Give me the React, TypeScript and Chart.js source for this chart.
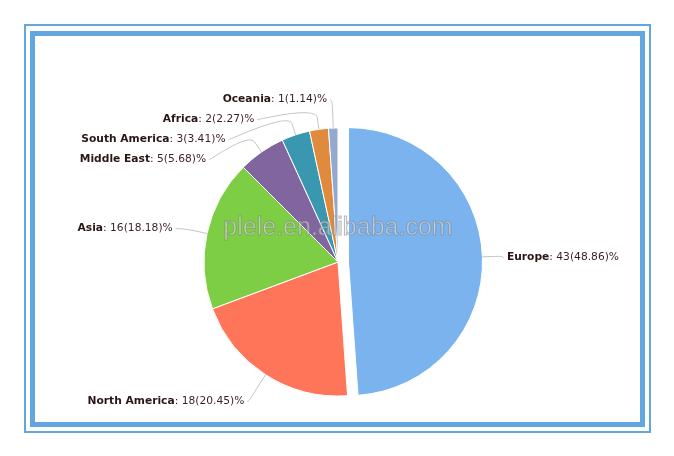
import React, { useEffect, useRef } from "react";
import { Chart, registerables } from "chart.js";

Chart.register(...registerables);

// ---- data ----
const regions = ["Europe", "North America", "Asia", "Middle East", "South America", "Africa", "Oceania"];
const counts = [43, 18, 16, 5, 3, 2, 1];
const sliceColors = ["#7AB3EE", "#FF755A", "#7ECE45", "#80659E", "#3A97B0", "#E08A3E", "#93A9CF"];
const slicedOffsets = [10.5, 0, 0, 0, 0, 0, 0];
const watermarkText = "plele.en.alibaba.com";

const FONT = '"DejaVu Sans", Verdana, sans-serif';
const FONT_SIZE = 10.7;
const FRAME = "#62A6E0";

// Slide "sliced" pie pieces outward along their mid-angle without enlarging them
const slicePlugin = {
  id: "sliceOut",
  afterDatasetUpdate(chart: any, args: any) {
    if (args.index !== 0) return;
    const meta = chart.getDatasetMeta(0);
    meta.data.forEach((arc: any, i: number) => {
      const off = slicedOffsets[i] || 0;
      if (!off) return;
      const mid = (arc.startAngle + arc.endAngle) / 2;
      arc.x += Math.cos(mid) * off;
      arc.y += Math.sin(mid) * off;
    });
  },
};

const labelPlugin = {
  id: "pieLabels",
  afterDatasetsDraw(chart: any) {
    const ctx = chart.ctx as CanvasRenderingContext2D;
    const meta = chart.getDatasetMeta(0);
    const ds = chart.data.datasets[0];
    const values = ds.data as number[];
    const labels = chart.data.labels as string[];
    const total = values.reduce((a, b) => a + b, 0);
    const area = chart.chartArea;
    const cx = (area.left + area.right) / 2;
    const cy = (area.top + area.bottom) / 2;
    const distance = 30;
    const padding = 5;
    const minGap = 20;
    const items = meta.data.map((arc: any, i: number) => {
      const mid = (arc.startAngle + arc.endAngle) / 2;
      const cos = Math.cos(mid);
      const sin = Math.sin(mid);
      return {
        i,
        r: arc.outerRadius,
        cos,
        sin,
        off: slicedOffsets[i] || 0,
        left: cos < 0,
        y: cy + sin * (arc.outerRadius + distance),
      };
    });
    for (const side of [true, false]) {
      const group = items.filter((it: any) => it.left === side).sort((a: any, b: any) => a.y - b.y);
      for (let k = 1; k < group.length; k++) {
        if (group[k].y < group[k - 1].y + minGap) group[k].y = group[k - 1].y + minGap;
      }
    }
    ctx.save();
    ctx.textBaseline = "middle";
    for (const it of items) {
      const R = it.r + distance;
      const s = Math.max(-1, Math.min(1, (it.y - cy) / R));
      const gx = cx + (it.left ? -1 : 1) * Math.cos(Math.asin(s)) * R;
      const dir = it.left ? -1 : 1;
      const ly = it.y + 1.5;
      const name = labels[it.i];
      const rest = ": " + values[it.i] + "(" + ((values[it.i] / total) * 100).toFixed(2) + ")%";
      ctx.font = `bold ${FONT_SIZE}px ${FONT}`;
      const wName = ctx.measureText(name).width;
      ctx.font = `${FONT_SIZE}px ${FONT}`;
      const wRest = ctx.measureText(rest).width;
      const w = wName + wRest;
      const textStart = it.left ? gx - padding - w : gx + padding;
      const textEdge = it.left ? gx - padding : gx + padding;
      // connector
      const ox = cx + it.cos * it.off;
      const oy = cy + it.sin * it.off;
      const Ex = ox + it.cos * it.r;
      const Ey = oy + it.sin * it.r;
      const Bx = ox + it.cos * (it.r + 12);
      const By = oy + it.sin * (it.r + 12);
      const Sx = textEdge - dir * 3;
      ctx.beginPath();
      ctx.moveTo(Sx, ly);
      ctx.bezierCurveTo(gx, ly, 2 * Bx - Ex, 2 * By - Ey, Bx, By);
      ctx.lineTo(Ex, Ey);
      ctx.strokeStyle = "#C4C4C4";
      ctx.lineWidth = 1;
      ctx.stroke();
      // text
      ctx.textAlign = "left";
      ctx.fillStyle = "#2B1616";
      ctx.font = `bold ${FONT_SIZE}px ${FONT}`;
      ctx.fillText(name, textStart, ly);
      ctx.fillStyle = "#3A1E26";
      ctx.font = `${FONT_SIZE}px ${FONT}`;
      ctx.fillText(rest, textStart + wName, ly);
    }
    ctx.restore();
  },
  afterDraw(chart: any) {
    const ctx = chart.ctx as CanvasRenderingContext2D;
    const area = chart.chartArea;
    const cx = (area.left + area.right) / 2;
    const cy = (area.top + area.bottom) / 2;
    ctx.save();
    ctx.font = '25px "Liberation Sans", Arial, sans-serif';
    ctx.textAlign = "center";
    ctx.textBaseline = "alphabetic";
    const x = cx;
    const y = cy - 27;
    ctx.lineWidth = 1;
    ctx.fillStyle = "rgba(235,235,235,0.5)";
    ctx.fillText(watermarkText, x, y);
    ctx.strokeStyle = "rgba(120,120,120,0.5)";
    ctx.strokeText(watermarkText, x, y);
    ctx.restore();
  },
};

export default function App() {
  const ref = useRef<HTMLCanvasElement | null>(null);
  useEffect(() => {
    if (!ref.current) return;
    const chart = new Chart(ref.current, {
      type: "pie",
      data: {
        labels: regions,
        datasets: [
          {
            data: counts,
            backgroundColor: sliceColors,
            borderColor: "#FFFFFF",
            borderWidth: 1,
            radius: 134,
          } as any,
        ],
      },
      options: {
        responsive: false,
        animation: false,
        layout: { padding: { left: 2, right: 0, top: 100, bottom: 32 } },
        plugins: {
          legend: { display: false },
          tooltip: { enabled: false },
          title: { display: false },
        },
      },
      plugins: [slicePlugin, labelPlugin],
    });
    return () => chart.destroy();
  }, []);
  return (
    <div style={{ position: "fixed", left: 0, top: 0, width: 674, height: 456, background: "#FFFFFF" }}>
      <div
        style={{
          position: "absolute",
          left: 24,
          top: 24,
          width: 627,
          height: 409,
          border: `2px solid ${FRAME}`,
          boxSizing: "border-box",
        }}
      />
      <div
        style={{
          position: "absolute",
          left: 30,
          top: 31,
          width: 615,
          height: 396,
          border: `5px solid ${FRAME}`,
          boxSizing: "border-box",
        }}
      />
      <canvas ref={ref} width={674} height={456} style={{ position: "absolute", left: 0, top: 0 }} />
    </div>
  );
}
